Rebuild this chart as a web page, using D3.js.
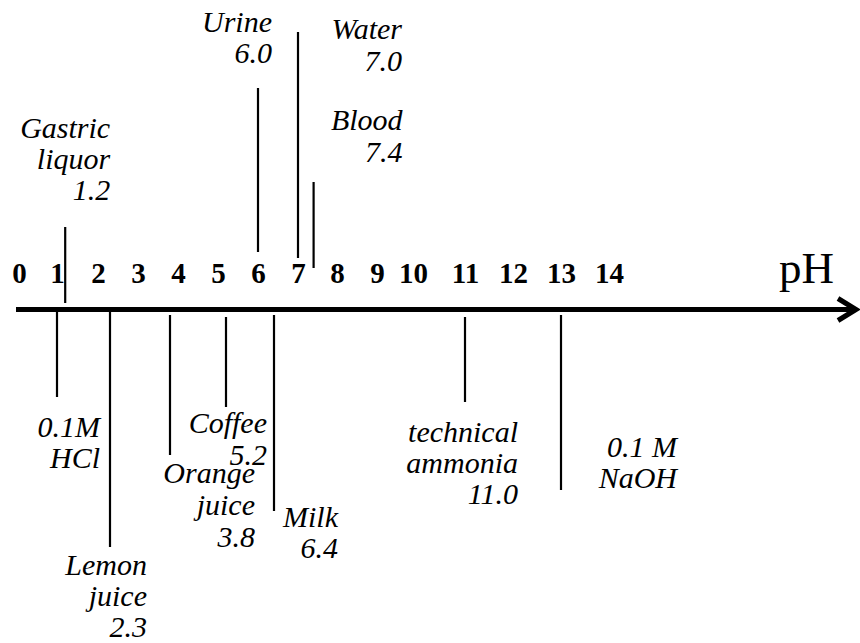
<!DOCTYPE html>
<html>
<head>
<meta charset="utf-8">
<script src="https://cdn.jsdelivr.net/npm/d3@7"></script>
<style>
  html, body { margin: 0; padding: 0; background: #fff; }
  svg { display: block; }
  svg text { font-family: "Liberation Serif", "Times New Roman", Times, serif; fill: #000; }
  .tick text { font-weight: bold; font-size: 29px; }
  .unit { font-size: 45px; }
  .mark text { font-style: italic; font-size: 30px; }
</style>
</head>
<body>
<div id="chart"></div>
<script>
// pH scale tick labels
var tickLabels = [0, 1, 2, 3, 4, 5, 6, 7, 8, 9, 10, 11, 12, 13, 14];

// substances, their pH and the label lines
var substances = ['Gastric liquor', 'Urine', 'Water', 'Blood', '0.1M HCl', 'Lemon juice',
                  'Orange juice', 'Coffee', 'Milk', 'technical ammonia', '0.1 M NaOH'];
var phValues = [1.2, 6.0, 7.0, 7.4, 1.0, 2.3, 3.8, 5.2, 6.4, 11.0, 13.0];
var labelLines = [
    ['Gastric', 'liquor'], ['Urine'], ['Water'], ['Blood'], ['0.1M', 'HCl'],
    ['Lemon', 'juice'], ['Orange', 'juice'], ['Coffee'], ['Milk'],
    ['technical', 'ammonia'], ['0.1 M', 'NaOH']
];
var showValue = [true, true, true, true, false, true, true, true, true, true, false];

// layout only: leader line extent, label right edge offset and first baseline
var lineTop    = [227,  88,  32, 182, 312, 312, 315, 317, 315, 317, 315];
var lineBottom = [303, 252, 258, 268, 397, 547, 455, 407, 511, 402, 490];
var labelDx    = [ 45,  14, 104,  89,  43,  37,  85,  41,  64,  53, 116];
var labelY     = [138,  32,  39, 130, 437, 575, 483, 433, 527, 442, 457];
var lineStep   = [31, 31, 32, 32, 31, 31, 32, 32, 31, 31, 31];

var width = 860, height = 643,
    axisY = 309.5;

// the original figure spaces its labels unevenly, so the scale is piecewise
var x = d3.scaleLinear()
    .domain(tickLabels)
    .range([19, 57, 98, 138, 178, 218, 258, 298, 337, 377, 413, 465, 513, 561, 609]);

var svg = d3.select('#chart').append('svg')
    .attr('width', width)
    .attr('height', height)
    .style('background', '#fff');

// main axis line with arrow
svg.append('line')
    .attr('x1', 16).attr('x2', 854)
    .attr('y1', axisY).attr('y2', axisY)
    .attr('stroke', '#000')
    .attr('stroke-width', 5);

svg.append('path')
    .attr('d', d3.line()([[838, axisY - 11], [856, axisY], [838, axisY + 11]]))
    .attr('fill', 'none')
    .attr('stroke', '#000')
    .attr('stroke-width', 5)
    .attr('stroke-linejoin', 'miter');

// tick labels above the axis
var axis = svg.append('g')
    .attr('transform', 'translate(0,' + axisY + ')')
    .call(d3.axisTop(x).tickValues(tickLabels).tickSize(0).tickPadding(26.5).tickFormat(d3.format('d')));

axis.attr('font-family', null).attr('font-size', null);
axis.select('.domain').remove();

svg.append('text')
    .attr('class', 'unit')
    .attr('x', 779)
    .attr('y', 283)
    .text('pH');

// leader lines for each substance
var marks = svg.selectAll('g.mark')
    .data(substances)
    .enter().append('g')
    .attr('class', 'mark');

marks.append('line')
    .attr('x1', function(d, i) { return x(phValues[i]); })
    .attr('x2', function(d, i) { return x(phValues[i]); })
    .attr('y1', function(d, i) { return lineTop[i]; })
    .attr('y2', function(d, i) { return lineBottom[i]; })
    .attr('stroke', '#000')
    .attr('stroke-width', 2.2);

// right-aligned labels: name lines, then the pH value
marks.append('text')
    .attr('text-anchor', 'end')
    .each(function(d, i) {
        var lines = labelLines[i].slice();
        if (showValue[i]) {
            lines.push(d3.format('.1f')(phValues[i]));
        }
        var ex = x(phValues[i]) + labelDx[i];
        d3.select(this).selectAll('tspan')
            .data(lines)
            .enter().append('tspan')
            .attr('x', ex)
            .attr('y', function(t, j) { return labelY[i] + j * lineStep[i]; })
            .text(function(t) { return t; });
    });
</script>
</body>
</html>
